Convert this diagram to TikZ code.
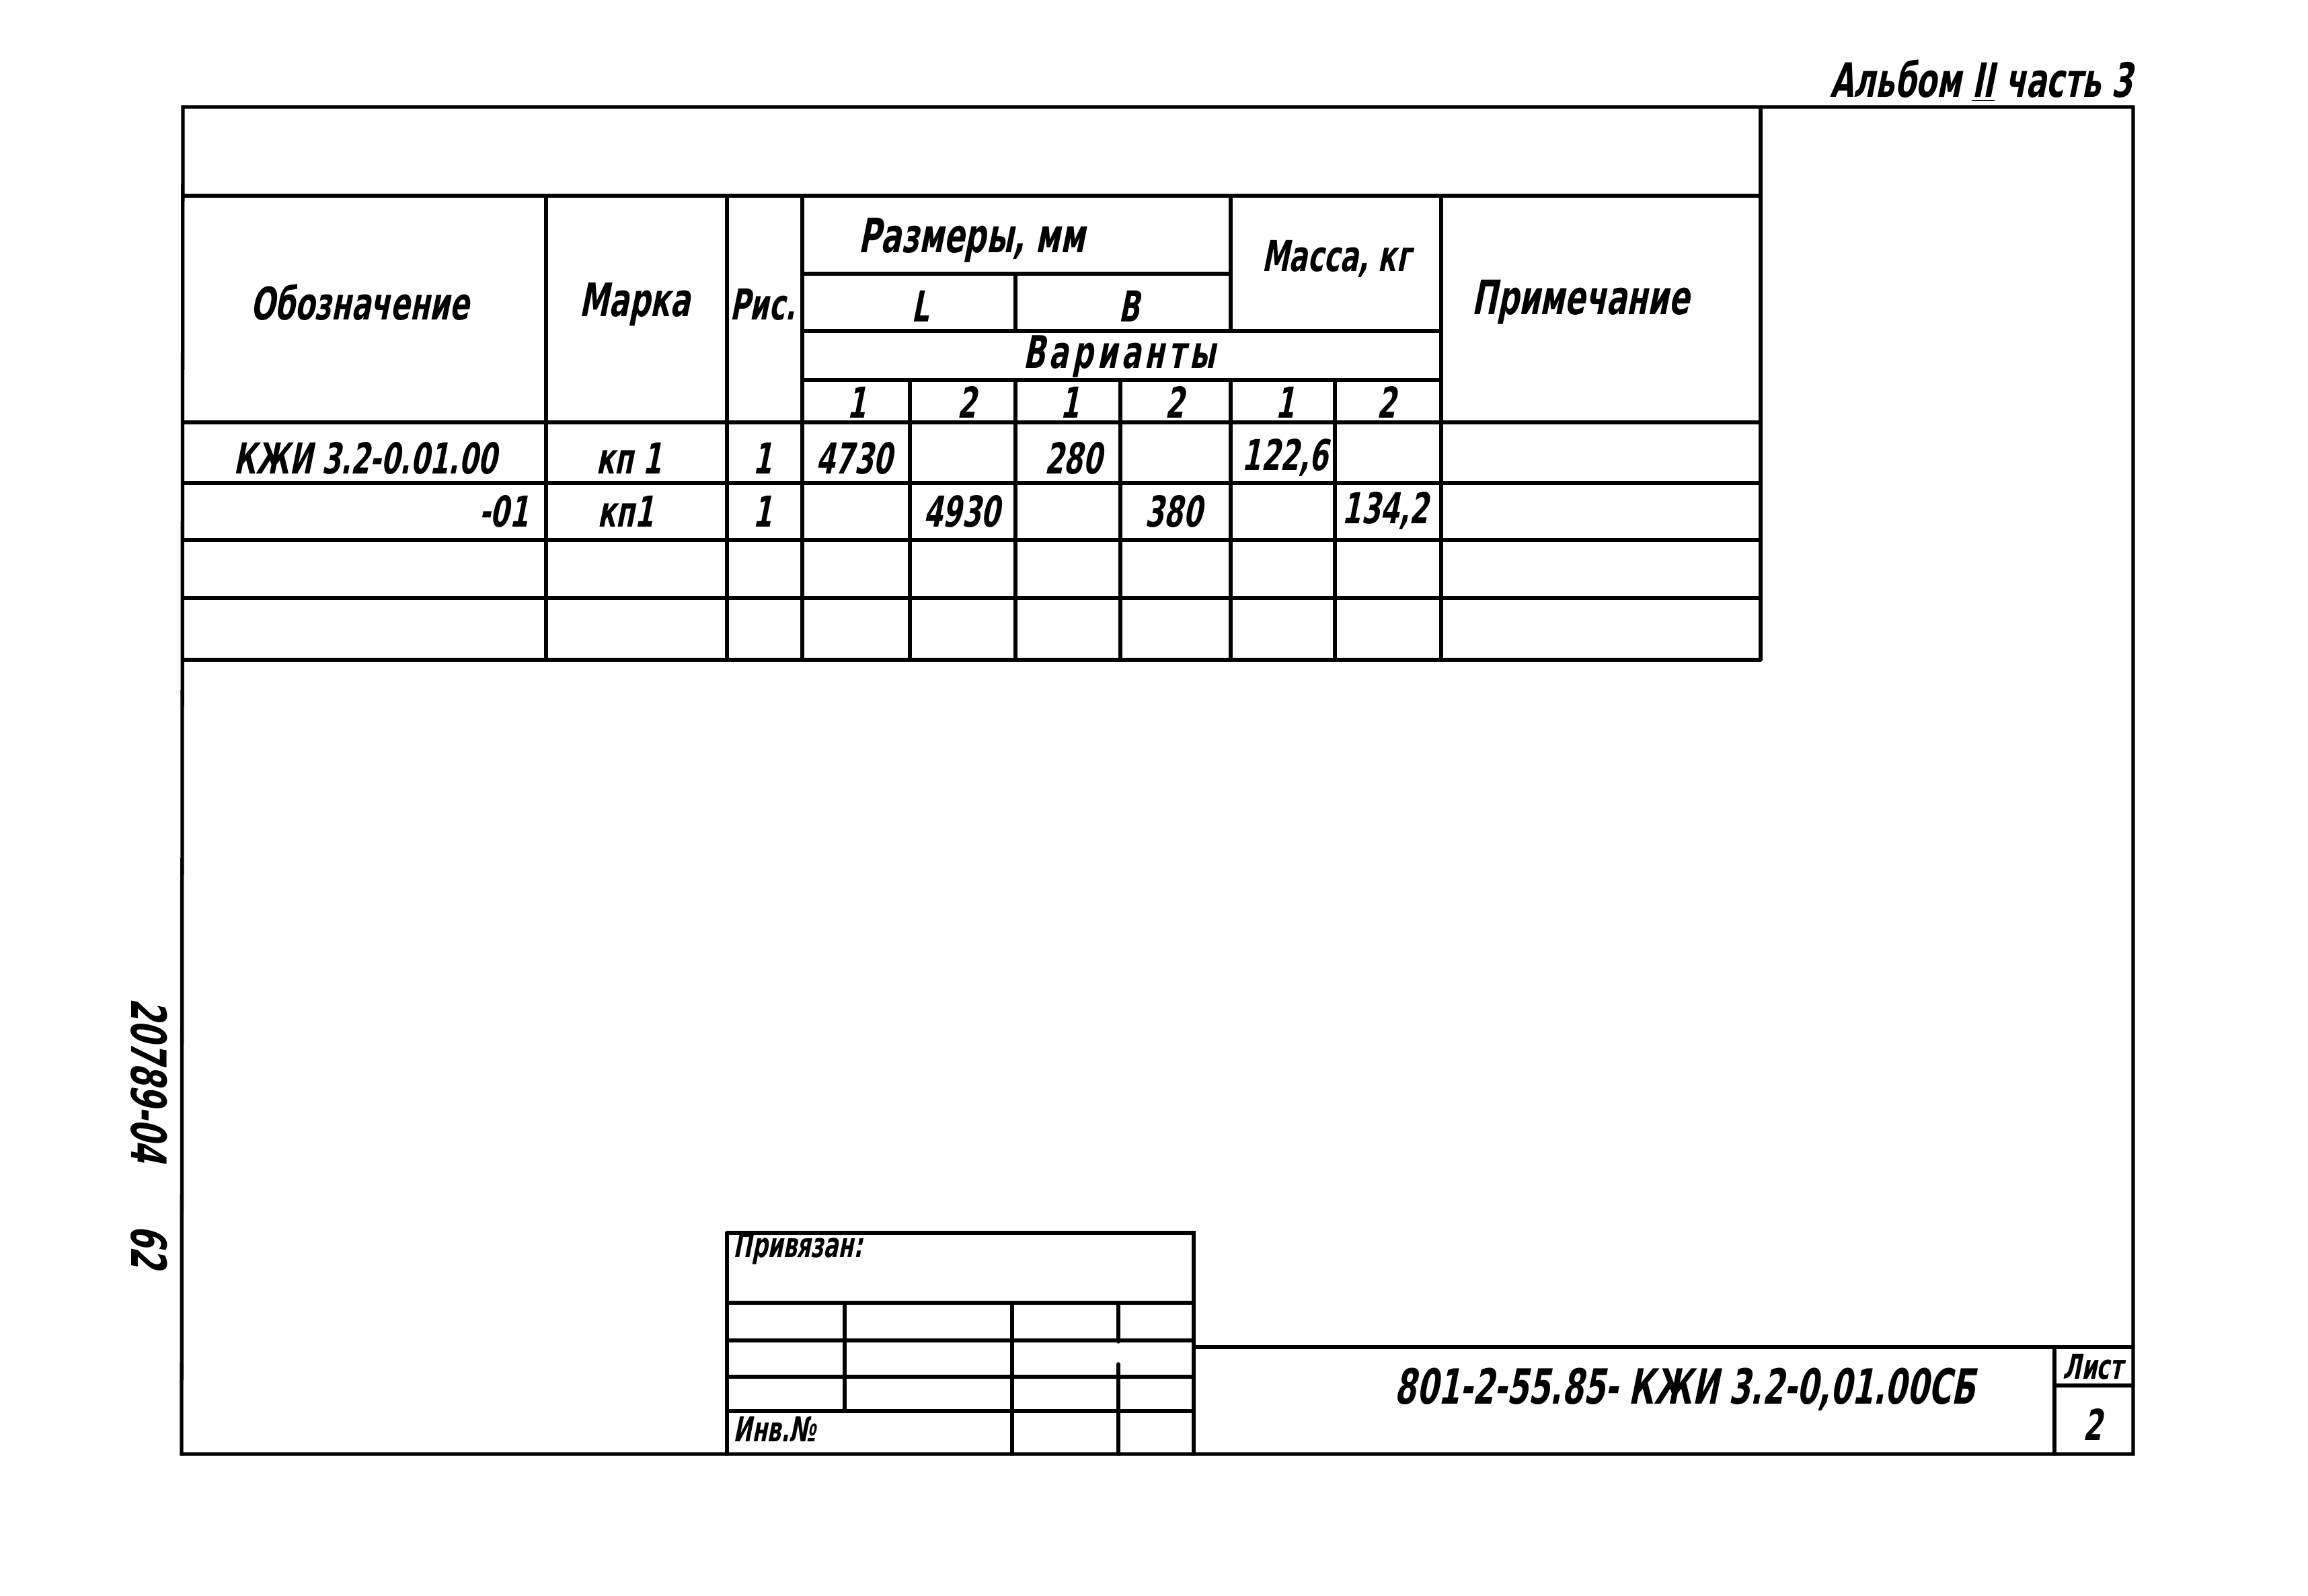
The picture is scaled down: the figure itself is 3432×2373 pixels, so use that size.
\documentclass[tikz,border=0pt]{standalone}
\usepackage{fontspec}
\newfontfamily\gf{DejaVu Sans}[FakeStretch=0.64,FakeSlant=0.2]
\begin{document}
\begin{tikzpicture}[x=0.01cm,y=-0.01cm,
  ln/.style={line width=1.5pt, line cap=round},
  hd/.style={font=\gf\bfseries\fontsize{20}{22}\selectfont, inner sep=0pt},
  dt/.style={font=\gf\bfseries\fontsize{18}{20}\selectfont, inner sep=0pt},
  sm/.style={font=\gf\bfseries\fontsize{14.5}{16}\selectfont, inner sep=0pt}]
\useasboundingbox (0,0) rectangle (3432,2373);
\fill[white] (0,0) rectangle (3432,2373);
% outer frame
\draw[ln] (272,159) -- (3172,159) -- (3172,2162) -- (270,2162) -- cycle;
% main table
\foreach \y in {291,628,718,803,889,981} \draw[ln] (272,\y) -- (2618,\y);
\draw[ln] (2618,159) -- (2618,981);
\foreach \x in {812,1081,1193,2143} \draw[ln] (\x,291) -- (\x,981);
\draw[ln] (1193,407) -- (1830,407);
\draw[ln] (1193,492) -- (2143,492);
\draw[ln] (1193,565) -- (2143,565);
\draw[ln] (1510,407) -- (1510,492);
\draw[ln] (1830,291) -- (1830,492);
\foreach \x in {1353,1510,1666,1830,1985} \draw[ln] (\x,565) -- (\x,981);
% bottom small table
\draw[ln] (1081,1833) -- (1775,1833) -- (1775,2162);
\draw[ln] (1081,1833) -- (1081,2162);
\foreach \y in {1937,1993,2047,2098} \draw[ln] (1081,\y) -- (1775,\y);
\draw[ln] (1256,1937) -- (1256,2098);
\draw[ln] (1505,1937) -- (1505,2162);
\draw[ln] (1663,1937) -- (1663,1995);
\draw[ln] (1663,2028) -- (1663,2162);
% title block
\draw[ln] (1775,2003) -- (3172,2003);
\draw[ln] (3055,2003) -- (3055,2162);
\draw[ln] (3055,2060) -- (3172,2060);
% texts
\node[hd] (alb) at (2946,120) {Альбом \underline{II} часть 3};
\node[hd, font=\gf\bfseries\fontsize{19}{21}\selectfont] (h1) at (535,450) {Обозначение};
\node[hd, font=\gf\bfseries\fontsize{19.5}{21}\selectfont] (h2) at (944,453) {Марка};
\node[hd, font=\gf\bfseries\fontsize{18}{20}\selectfont] (h3) at (1134,453) {Рис.};
\node[hd] (h4) at (1445,357) {Размеры, мм};
\node[dt] (hL) at (1368,455) {L};
\node[dt] (hB) at (1679,455) {B};
\node[hd, font=\gf\bfseries\fontsize{18}{20}\selectfont] (h5) at (1987,385) {Масса, кг};
\node[hd] (h6) at (2350,449) {Примечание};
\node[hd, font=\gf\bfseries\fontsize{19}{21}\selectfont] (h7) at (1664,530) {\addfontfeature{LetterSpace=9}Варианты};
\node[dt] (v1) at (1274,598) {1};
\node[dt] (v2) at (1438,598) {2};
\node[dt] (v3) at (1591,598) {1};
\node[dt] (v4) at (1747,598) {2};
\node[dt] (v5) at (1911,598) {1};
\node[dt] (v6) at (2062,598) {2};
% row 1
\node[dt] (r1a) at (543,681) {КЖИ 3.2-0.01.00};
\node[dt] (r1b) at (935,681) {кп 1};
\node[dt] (r1c) at (1134,681) {1};
\node[dt] (r1d) at (1270,681) {4730};
\node[dt] (r1e) at (1596,681) {280};
\node[dt] (r1f) at (1911,681) {122,6};
% row 2
\node[dt, anchor=east] (r2a) at (786,760) {-01};
\node[dt] (r2b) at (930,760) {кп1};
\node[dt] (r2c) at (1134,760) {1};
\node[dt] (r2d) at (1430,760) {4930};
\node[dt] (r2e) at (1745,760) {380};
\node[dt] (r2f) at (2060,760) {134,2};
% small table texts
\node[sm, anchor=west] (pr) at (1090,1856) {Привязан:};
\node[sm, anchor=west] (inv) at (1090,2125) {Инв.№};
% title block texts
\node[dt, font=\gf\bfseries\fontsize{20.5}{22}\selectfont] (ttl) at (2505,2066) {801-2-55.85- КЖИ 3.2-0,01.00СБ};
\node[sm] (list) at (3112,2032) {Лист};
\node[dt] (pg) at (3112,2118) {2};
% rotated stamp
\node[dt, font=\gf\bfseries\fontsize{20.5}{23}\selectfont, rotate=-90] (stamp) at (222,1685) {20789-04\hspace{1.3em}62};
\end{tikzpicture}
\end{document}
